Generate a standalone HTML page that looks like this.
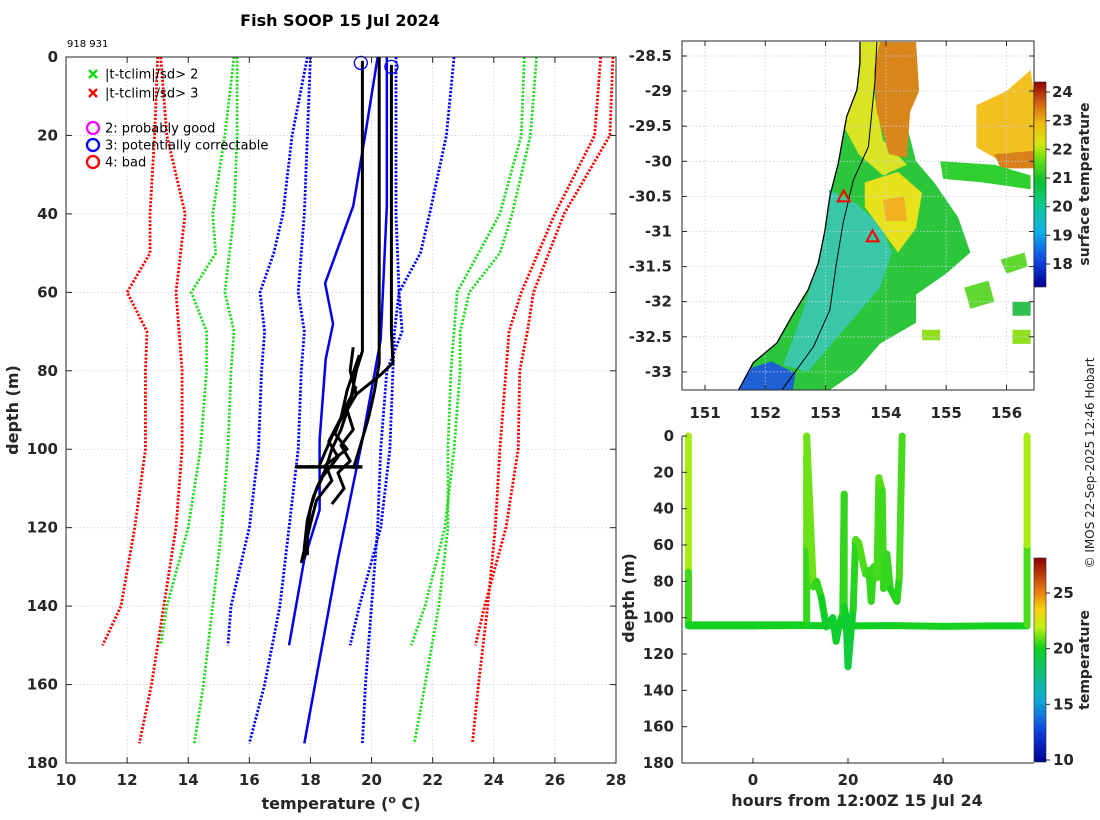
<!DOCTYPE html>
<html><head><meta charset="utf-8">
<style>
html,body{margin:0;padding:0;background:#fff;}
svg{display:block;font-family:"DejaVu Sans","Liberation Sans",sans-serif;}
.tk{font-size:15px;font-weight:bold;fill:#262626;}
</style></head>
<body>
<svg id="fig" width="1100" height="820" viewBox="0 0 1100 820" xmlns="http://www.w3.org/2000/svg">
<defs>
<linearGradient id="cbMap" x1="0" y1="1" x2="0" y2="0">
<stop offset="0" stop-color="#00008f"/><stop offset="0.12" stop-color="#1040e0"/><stop offset="0.27" stop-color="#10b0e8"/><stop offset="0.4" stop-color="#10c890"/><stop offset="0.52" stop-color="#10c030"/><stop offset="0.62" stop-color="#60e010"/><stop offset="0.7" stop-color="#d8e810"/><stop offset="0.8" stop-color="#f0b810"/><stop offset="0.9" stop-color="#d06010"/><stop offset="1" stop-color="#900000"/>
</linearGradient>
<linearGradient id="cbTr" x1="0" y1="1" x2="0" y2="0">
<stop offset="0" stop-color="#00008f"/><stop offset="0.15" stop-color="#1040e0"/><stop offset="0.3" stop-color="#10a8d8"/><stop offset="0.45" stop-color="#10c070"/><stop offset="0.56" stop-color="#10d020"/><stop offset="0.66" stop-color="#c0f010"/><stop offset="0.75" stop-color="#f8d010"/><stop offset="0.85" stop-color="#e07010"/><stop offset="1" stop-color="#900000"/>
</linearGradient>
<clipPath id="mapClip"><rect x="682" y="41" width="352" height="349"/></clipPath>
</defs>
<text x="340" y="26" text-anchor="middle" font-size="16" font-weight="bold" fill="#000">Fish SOOP 15 Jul 2024</text>
<text x="67" y="47" font-size="10" fill="#000">918 931</text>
<g id="left"></g>
<g id="map"></g>
<g id="track"></g>
<text transform="translate(1094,463) rotate(-90)" text-anchor="middle" font-size="12" fill="#222">© IMOS 22-Sep-2025 12:46 Hobart</text>
</svg>
<script>
// ---------- profile plot data ----------
const climDepthsA = [0,20,40,50,60,70,80,100,120,140,150];
const climDepthsB = [0,20,40,60,70,80,100,120,140,160,175];
const redLeftA   = [13.0,12.9,12.75,12.75,12.0,12.65,12.6,12.6,12.25,11.8,11.2];
const redLeftB   = [13.1,13.3,13.9,13.6,13.7,13.8,13.8,13.6,13.2,12.8,12.4];
const greenLeftA = [15.5,15.2,14.8,14.9,14.1,14.6,14.6,14.4,14.0,13.3,13.1];
const greenLeftB = [15.6,15.6,15.5,15.2,15.5,15.4,15.3,15.1,14.8,14.5,14.2];
const blueLeftA  = [17.9,17.4,17.1,16.8,16.35,16.5,16.4,16.3,16.0,15.4,15.3];
const blueLeftB  = [18.0,17.9,17.8,17.6,17.8,17.7,17.6,17.3,17.0,16.5,16.0];
const blueRightA = [22.7,22.45,21.9,21.6,20.9,20.75,20.7,20.6,20.3,19.6,19.3];
const blueRightB = [20.8,20.8,20.8,20.9,21.0,20.5,20.3,20.2,20.0,19.8,19.7];
const greenRightA= [25.4,25.2,24.6,24.2,23.2,22.9,22.9,22.7,22.4,21.75,21.3];
const greenRightB= [25.0,24.9,24.2,22.8,22.7,22.6,22.5,22.5,22.2,21.75,21.4];
const redRightA  = [27.9,27.8,26.3,25.8,25.3,25.1,24.85,24.8,24.4,23.7,23.4];
const redRightB  = [27.5,27.3,26.0,24.9,24.5,24.4,24.2,24.05,23.8,23.5,23.3];
const blueSolid1T = [20.2,19.8,19.4,18.48,18.74,18.5,18.3,18.3,17.8,17.3];
const blueSolid1D = [0,19.5,38,57.7,68,77,97.6,115.5,128,150];
const blueSolid2T = [20.5,20.5,20.3,19.7,18.9,17.8];
const blueSolid2D = [0,38,72,97.6,128,175];
const blackA_T=[19.7,19.7,19.5,19.3,19.0,18.7,18.5,18.2,18.0,17.9,17.9];
const blackA_D=[1,75,80,88,95,100,105,110,115,120,127];
const blackB_T=[20.25,20.25,20.1,19.9,19.6,19.4];
const blackB_D=[0,78,85,92,100,105];
const blackC_T=[20.65,20.65,20.7,20.3,19.5,18.8,18.3];
const blackC_D=[2,70,78,81,86,95,104];
const blackD_T=[19.6,19.2,19.0,18.6,18.9,18.4,18.1,17.9,17.8,17.8];
const blackD_D=[76,85,92,98,102,107,112,118,125,128];
const blackE_T=[19.5,19.1,18.8,19.2,18.5,18.7,18.2,18.0,17.7];
const blackE_D=[84,90,96,100,104,108,113,119,129];
const blackF_T=[19.4,19.3,19.5,19.2,19.4,19.0,19.3,18.9,19.1,18.7];
const blackF_D=[74,80,86,90,95,99,103,106,110,114];
const blackH_T=[17.5,19.7];
const blackH_D=[104.5,104.5];
const flagT=[19.65,20.65];
const flagD=[1,2];
const xTicks=[10,12,14,16,18,20,22,24,26,28];
const yTicks=[0,20,40,60,80,100,120,140,160,180];

const NS="http://www.w3.org/2000/svg";
function mk(tag,attrs,parent){const e=document.createElementNS(NS,tag);for(const k in attrs)e.setAttribute(k,attrs[k]);parent.appendChild(e);return e;}

const L=document.getElementById('left');
const lx=t=>66+(t-10)*(550/18);
const ly=d=>57+d*(706/180);
xTicks.forEach(t=>{const g=mk('line',{x1:lx(t),x2:lx(t),y1:57,y2:763,stroke:'#c9cfe6','stroke-width':0.8,'stroke-dasharray':'1.5,2'},L);

});
yTicks.forEach(d=>{const g=mk('line',{x1:66,x2:616,y1:ly(d),y2:ly(d),stroke:'#c9cfe6','stroke-width':0.8,'stroke-dasharray':'1.5,2'},L);

});
function prof(T,D,col,w,dash,name){const p=mk('polyline',{points:T.map((t,i)=>lx(t)+','+ly(D[i])).join(' '),fill:'none',stroke:col,'stroke-width':w,'stroke-linejoin':'round'},L);if(dash)p.setAttribute('stroke-dasharray',dash);

}
const DW=2.8, DD='2.2,1.6';
prof(redLeftA,climDepthsA,'#ff0000',DW,DD,'clim-red-left-a');
prof(redLeftB,climDepthsB,'#ff0000',DW,DD,'clim-red-left-b');
prof(greenLeftA,climDepthsA,'#22dd22',DW,DD,'clim-green-left-a');
prof(greenLeftB,climDepthsB,'#22dd22',DW,DD,'clim-green-left-b');
prof(blueLeftA,climDepthsA,'#0000ff',DW,DD,'clim-blue-left-a');
prof(blueLeftB,climDepthsB,'#0000ff',DW,DD,'clim-blue-left-b');
prof(blueRightA,climDepthsA,'#0000ff',DW,DD,'clim-blue-right-a');
prof(blueRightB,climDepthsB,'#0000ff',DW,DD,'clim-blue-right-b');
prof(greenRightA,climDepthsA,'#22dd22',DW,DD,'clim-green-right-a');
prof(greenRightB,climDepthsB,'#22dd22',DW,DD,'clim-green-right-b');
prof(redRightA,climDepthsA,'#ff0000',DW,DD,'clim-red-right-a');
prof(redRightB,climDepthsB,'#ff0000',DW,DD,'clim-red-right-b');
prof(blueSolid1T,blueSolid1D,'#0000ee',2.5,null,'mean-profile-1');
prof(blueSolid2T,blueSolid2D,'#0000ee',2.5,null,'mean-profile-2');
prof(blackA_T,blackA_D,'#000',3,null,'profile-a');
prof(blackB_T,blackB_D,'#000',3,null,'profile-b');
prof(blackC_T,blackC_D,'#000',3,null,'profile-c');
prof(blackD_T,blackD_D,'#000',3,null,'profile-d');
prof(blackE_T,blackE_D,'#000',3,null,'profile-e');
prof(blackF_T,blackF_D,'#000',3,null,'profile-f');
prof(blackH_T,blackH_D,'#000',3.5,null,'profile-bottom-line');
flagT.forEach((t,i)=>{const c=mk('circle',{cx:lx(t),cy:ly(flagD[i])+2,r:6.5,fill:'none',stroke:'#0000ff','stroke-width':1.3},L);

});
mk('rect',{x:66,y:57,width:550,height:706,fill:'none',stroke:'#262626','stroke-width':1},L);
xTicks.forEach(t=>{mk('line',{x1:lx(t),x2:lx(t),y1:763,y2:757,stroke:'#262626'},L);mk('line',{x1:lx(t),x2:lx(t),y1:57,y2:63,stroke:'#262626'},L);
const tx=mk('text',{x:lx(t),y:785,'text-anchor':'middle',class:'tk'},L);tx.textContent=t;

});
yTicks.forEach(d=>{mk('line',{x1:66,x2:72,y1:ly(d),y2:ly(d),stroke:'#262626'},L);mk('line',{x1:616,x2:610,y1:ly(d),y2:ly(d),stroke:'#262626'},L);
const tx=mk('text',{x:58,y:ly(d)+5,'text-anchor':'end',class:'tk'},L);tx.textContent=d;

});
{const t=mk('text',{x:341,y:809,'text-anchor':'middle','font-size':16,'font-weight':'bold',fill:'#262626'},L);t.innerHTML='temperature (<tspan dy="-6" font-size="11">o</tspan><tspan dy="6"> C)</tspan>';

}
{const t=mk('text',{transform:'translate(18,410) rotate(-90)','text-anchor':'middle','font-size':16,'font-weight':'bold',fill:'#262626'},L);t.textContent='depth (m)';

}
const leg=[['x','#00dd00','|t-tclim|/sd> 2',74],['x','#ff0000','|t-tclim|/sd> 3',93],['o','#ff00ff','2: probably good',128],['o','#0000ff','3: potentially correctable',145],['o','#ff0000','4: bad',162]];
leg.forEach(e=>{const g=mk('g',{},L);


if(e[0]==='x'){mk('path',{d:`M89 ${e[3]-4}l8 8M97 ${e[3]-4}l-8 8`,stroke:e[1],'stroke-width':2.3},g);}
else mk('circle',{cx:93,cy:e[3],r:6,fill:'none',stroke:e[1],'stroke-width':2.3},g);
const t=mk('text',{x:105,y:e[3]+4.5,'font-size':13,fill:'#000'},g);t.textContent=e[2];});

// ---------- map ----------
const M=document.getElementById('map');
const mx=lon=>705+(lon-151)*60.3;
const my=lat=>56+(-28.5-lat)*70.2;
const lonTicks=[151,152,153,154,155,156];
const latTicks=[-28.5,-29,-29.5,-30,-30.5,-31,-31.5,-32,-32.5,-33];
const coastLon=[153.57,153.57,153.52,153.35,153.21,153.07,152.99,152.88,152.71,152.44,152.19,151.8,151.53];
const coastLat=[-28.3,-28.6,-28.98,-29.36,-30.03,-30.5,-30.98,-31.45,-31.83,-32.21,-32.59,-32.87,-33.3];
const isoLon=[153.85,153.82,153.71,153.46,153.29,153.18,153.07,152.8,152.24];
const isoLat=[-28.3,-28.84,-29.79,-30.27,-30.88,-31.45,-32.12,-32.64,-33.3];
const stationLon=[153.3,153.78];
const stationLat=[-30.5,-31.07];
const regions=[
 ['#2cc63c',[[153.57,-28.3],[153.57,-28.6],[153.52,-28.98],[153.35,-29.36],[153.21,-30.03],[153.07,-30.5],[152.99,-30.98],[152.88,-31.45],[152.71,-31.83],[152.44,-32.21],[152.19,-32.59],[151.8,-32.87],[151.53,-33.3],[153.0,-33.3],[153.5,-33.0],[153.9,-32.6],[154.5,-32.3],[154.5,-31.9],[155.0,-31.6],[155.4,-31.3],[155.2,-30.8],[154.8,-30.3],[154.5,-30.0],[154.35,-29.5],[154.5,-28.3]]],
 ['#38c8a8',[[153.05,-30.4],[153.5,-30.6],[153.9,-30.9],[154.1,-31.3],[153.9,-31.8],[153.5,-32.2],[153.1,-32.6],[152.7,-33.0],[152.3,-32.9],[152.6,-32.2],[152.85,-31.5],[152.99,-30.98],[153.07,-30.5]]],
 ['#d9e422',[[153.57,-28.3],[153.95,-28.3],[153.8,-29.0],[153.95,-29.7],[154.35,-30.05],[153.95,-30.2],[153.55,-29.9],[153.3,-29.5],[153.52,-28.98]]],
 ['#d8861a',[[153.9,-28.3],[154.5,-28.3],[154.55,-29.0],[154.4,-29.3],[154.35,-29.95],[154.05,-29.9],[153.85,-29.3],[153.8,-28.7]]],
 ['#e8e21c',[[153.65,-30.3],[154.2,-30.15],[154.6,-30.45],[154.5,-30.95],[154.2,-31.3],[153.95,-31.0],[153.65,-30.65]]],
 ['#f0b020',[[153.95,-30.55],[154.3,-30.5],[154.35,-30.85],[154.0,-30.85]]],
 ['#1f60d4',[[151.53,-33.3],[151.75,-32.95],[152.1,-32.85],[152.5,-33.02],[152.45,-33.3]]],
 ['#f2c020',[[155.5,-29.2],[156.0,-29.0],[156.4,-28.7],[156.45,-29.0],[156.45,-30.1],[155.9,-30.0],[155.5,-29.8]]],
 ['#d8801a',[[155.8,-29.9],[156.45,-29.85],[156.45,-30.1],[155.9,-30.1]]],
 ['#30d030',[[154.9,-30.0],[155.8,-30.05],[156.4,-30.2],[156.4,-30.4],[155.6,-30.3],[154.95,-30.25]]],
 ['#60d830',[[155.9,-31.4],[156.3,-31.3],[156.35,-31.5],[156.0,-31.6]]],
 ['#60d830',[[155.3,-31.8],[155.7,-31.7],[155.8,-32.0],[155.4,-32.1]]],
 ['#30c050',[[156.1,-32.0],[156.4,-32.0],[156.4,-32.2],[156.1,-32.2]]],
 ['#90e020',[[156.1,-32.4],[156.4,-32.4],[156.4,-32.6],[156.1,-32.6]]],
 ['#90e020',[[154.6,-32.4],[154.9,-32.4],[154.9,-32.55],[154.6,-32.55]]]
];
const mg=mk('g',{'clip-path':'url(#mapClip)'},M);
regions.forEach(r=>{const p=mk('polygon',{points:r[1].map(q=>mx(q[0])+','+my(q[1])).join(' '),fill:r[0]},mg);

});
lonTicks.forEach(t=>mk('line',{x1:mx(t),x2:mx(t),y1:41,y2:390,stroke:'#c9cfe6','stroke-width':0.8,'stroke-dasharray':'1.5,2'},mg));
latTicks.forEach(t=>mk('line',{y1:my(t),y2:my(t),x1:682,x2:1034,stroke:'#c9cfe6','stroke-width':0.8,'stroke-dasharray':'1.5,2'},mg));
{const p=mk('polyline',{points:coastLon.map((v,i)=>mx(v)+','+my(coastLat[i])).join(' '),fill:'none',stroke:'#000','stroke-width':1.3},mg);

}
{const p=mk('polyline',{points:isoLon.map((v,i)=>mx(v)+','+my(isoLat[i])).join(' '),fill:'none',stroke:'#000','stroke-width':1},mg);

}
stationLon.forEach((v,i)=>{const x=mx(v),y=my(stationLat[i]);const p=mk('polygon',{points:`${x},${y-6} ${x-6},${y+5} ${x+6},${y+5}`,fill:'none',stroke:'#ff0000','stroke-width':2},M);

});
mk('rect',{x:682,y:41,width:352,height:349,fill:'none',stroke:'#262626'},M);
lonTicks.forEach(t=>{mk('line',{x1:mx(t),x2:mx(t),y1:390,y2:385,stroke:'#262626'},M);mk('line',{x1:mx(t),x2:mx(t),y1:41,y2:46,stroke:'#262626'},M);
const tx=mk('text',{x:mx(t),y:418,'text-anchor':'middle',class:'tk'},M);tx.textContent=t;

});
latTicks.forEach(t=>{mk('line',{x1:682,x2:687,y1:my(t),y2:my(t),stroke:'#262626'},M);mk('line',{x1:1034,x2:1029,y1:my(t),y2:my(t),stroke:'#262626'},M);
const tx=mk('text',{x:672,y:my(t)+5,'text-anchor':'end',class:'tk'},M);tx.textContent=t;

});
const cbMapTicks=[18,19,20,21,22,23,24];
const cby=v=>264-(v-18)*(172/6);
{const r=mk('rect',{x:1034,y:82,width:12,height:205,fill:'url(#cbMap)',stroke:'#262626','stroke-width':0.6},M);

}
cbMapTicks.forEach(v=>{mk('line',{x1:1046,x2:1050,y1:cby(v),y2:cby(v),stroke:'#262626'},M);
const t=mk('text',{x:1052,y:cby(v)+5,class:'tk','font-size':14},M);t.textContent=v;

});
{const t=mk('text',{transform:'translate(1089,184) rotate(-90)','text-anchor':'middle','font-size':14,'font-weight':'bold',fill:'#262626'},M);t.textContent='surface temperature';

}

// ---------- depth-time track ----------
const trackHours=[-13.6,-13.6,-13.6,11.3,11.3,11.3,11.3,11.3,12.7,13.4,14.4,15.1,15.4,16.8,17.5,18.2,18.9,19.2,19.2,19.6,20.0,20.6,21.1,21.6,22.3,23.0,23.7,24.4,24.9,25.4,26.1,26.5,27.2,27.5,28.2,28.9,30.3,30.8,31.4];
const trackDepth=[0,75,104,104,101,60,10,0,83,80,89,100,105,100,113,103,98,32,94,100,127,109,95,57,59,68,76,74,91,72,78,23,30,84,65,84,91,78,0];
const trackTemp=[21.8,20.8,20.0,20.0,20.2,20.5,21.0,21.3,20.3,20.3,20.2,19.8,19.7,19.8,19.6,19.8,20.0,20.5,20.1,19.7,19.4,19.6,19.9,20.5,20.6,20.5,20.5,20.4,20.2,20.4,20.3,20.6,20.6,20.2,20.4,20.2,20.1,20.3,20.6];
const flatHours=[-13.6,0,10,20,30,40,50,57.7];
const flatDepth=[104.5,104.5,104.3,104.5,104.4,104.8,104.5,104.5];
const flatTemp=[20.0,20.0,20.0,19.9,20.0,20.1,20.0,20.0];
const endHours=[57.7,57.7,57.7];
const endDepth=[104,60,0];
const endTemp=[20.0,21.0,21.6];
const hourTicks=[0,20,40];
const depthTicks=[0,20,40,60,80,100,120,140,160,180];
const cbTrTicks=[10,15,20,25];
const T=document.getElementById('track');
const hx=h=>753+h*4.75;
const dy=d=>436+d*(327/180);
function tcol(v){const s=[[10,[0,0,143]],[13,[16,64,224]],[16,[16,168,216]],[18.5,[16,192,112]],[20,[16,208,32]],[21.5,[192,240,16]],[23,[248,208,16]],[25,[224,112,16]],[28,[144,0,0]]];
for(let i=1;i<s.length;i++){if(v<=s[i][0]){const f=(v-s[i-1][0])/(s[i][0]-s[i-1][0]);const a=s[i-1][1],b=s[i][1];return `rgb(${a.map((c,k)=>Math.round(c+(b[k]-c)*Math.max(0,f))).join(',')})`;}}return 'rgb(144,0,0)';}
function seg(H,D,C,name){for(let i=1;i<H.length;i++){const l=mk('line',{x1:hx(H[i-1]),y1:dy(D[i-1]),x2:hx(H[i]),y2:dy(D[i]),stroke:tcol((C[i-1]+C[i])/2),'stroke-width':7,'stroke-linecap':'round'},T);

}}
seg(flatHours,flatDepth,flatTemp,'track-flat-segment');
seg(trackHours,trackDepth,trackTemp,'track-segment');
seg(endHours,endDepth,endTemp,'track-end-segment');
mk('line',{x1:682,x2:682,y1:436,y2:763,stroke:'#262626'},T);
mk('line',{x1:682,x2:1034,y1:763,y2:763,stroke:'#262626'},T);
hourTicks.forEach(h=>{mk('line',{x1:hx(h),x2:hx(h),y1:763,y2:758,stroke:'#262626'},T);
const t=mk('text',{x:hx(h),y:785,'text-anchor':'middle',class:'tk'},T);t.textContent=h;

});
depthTicks.forEach(d=>{mk('line',{x1:682,x2:687,y1:dy(d),y2:dy(d),stroke:'#262626'},T);
const t=mk('text',{x:674,y:dy(d)+5,'text-anchor':'end',class:'tk'},T);t.textContent=d;

});
{const t=mk('text',{x:857,y:806,'text-anchor':'middle','font-size':16,'font-weight':'bold',fill:'#262626'},T);t.textContent='hours from 12:00Z 15 Jul 24';

}
{const t=mk('text',{transform:'translate(634,598) rotate(-90)','text-anchor':'middle','font-size':16,'font-weight':'bold',fill:'#262626'},T);t.textContent='depth (m)';

}
const ty=v=>760-(v-10)*(167/15);
{const r=mk('rect',{x:1034,y:558,width:12,height:204,fill:'url(#cbTr)',stroke:'#262626','stroke-width':0.6},T);

}
cbTrTicks.forEach(v=>{mk('line',{x1:1046,x2:1050,y1:ty(v),y2:ty(v),stroke:'#262626'},T);
const t=mk('text',{x:1053,y:ty(v)+5,class:'tk','font-size':14},T);t.textContent=v;

});
{const t=mk('text',{transform:'translate(1089,660) rotate(-90)','text-anchor':'middle','font-size':14,'font-weight':'bold',fill:'#262626'},T);t.textContent='temperature';

}
</script>
</body></html>
